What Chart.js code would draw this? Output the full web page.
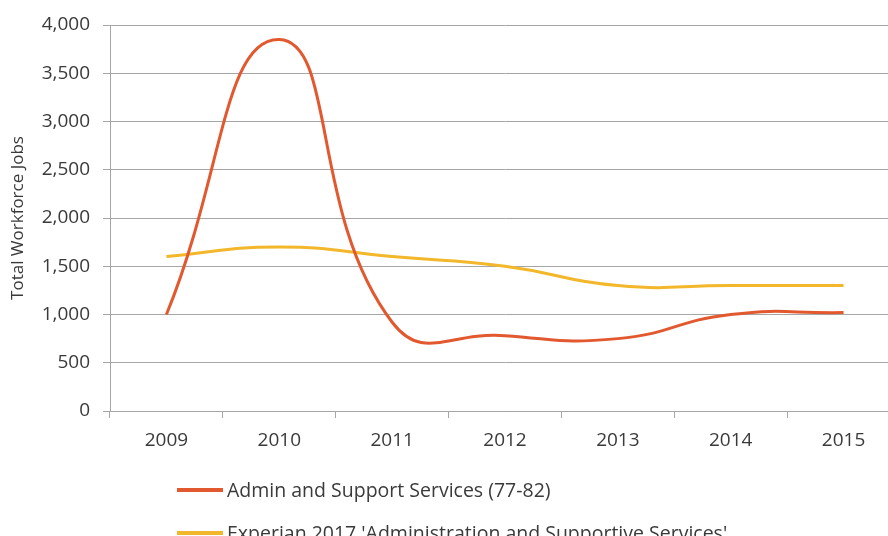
<!DOCTYPE html>
<html>
<head>
    <title>Total Workforce Jobs</title>
    <script src="https://cdn.jsdelivr.net/npm/chart.js"></script>
    <style>
        body {
            margin: 0;
            background-color: #ffffff;
            overflow: hidden;
            font-family: 'Open Sans', sans-serif;
        }

        .wrap {
            position: relative;
            width: 888px;
            height: 536px;
            overflow: hidden;
        }

        canvas {
            position: absolute;
            left: 0;
            top: 0;
        }

        .legend {
            position: absolute;
            left: 177px;
            top: 468px;
        }

        .legend-item {
            display: flex;
            align-items: center;
            height: 43px;
            font-size: 19.5px;
            color: #3a3a3a;
            white-space: nowrap;
        }

        .legend-line {
            width: 46px;
            height: 4px;
            margin-right: 4px;
        }
    </style>
</head>
<body>
    <div class="wrap">
        <canvas id="workforceChart" width="900" height="470"></canvas>
        <div class="legend" id="legend"></div>
    </div>

    <script>
        var years = ['2009', '2010', '2011', '2012', '2013', '2014', '2015'];
        var adminSupport = [1000, 3850, 920, 780, 750, 1000, 1020];
        var experian = [1600, 1700, 1600, 1500, 1300, 1300, 1300];

        var textColor = '#3a3a3a';
        var gridColor = '#a6a6a6';

        var workforceChart = new Chart(document.getElementById('workforceChart').getContext('2d'), {
            type: 'line',
            data: {
                labels: years,
                datasets: [{
                    label: 'Admin and Support Services (77-82)',
                    data: adminSupport,
                    borderColor: '#e2582f',
                    backgroundColor: '#e2582f',
                    borderWidth: 3,
                    pointRadius: 0,
                    tension: 0.5,
                    fill: false
                }, {
                    label: "Experian 2017 'Administration and Supportive Services'",
                    data: experian,
                    borderColor: '#f2b72a',
                    backgroundColor: '#f2b72a',
                    borderWidth: 3,
                    pointRadius: 0,
                    tension: 0.5,
                    fill: false
                }]
            },
            options: {
                responsive: false,
                animation: false,
                layout: {
                    padding: { top: 25, right: 0, bottom: 0, left: 0 }
                },
                plugins: {
                    legend: { display: false },
                    tooltip: { enabled: false }
                },
                scales: {
                    x: {
                        offset: true,
                        grid: {
                            offset: true,
                            drawOnChartArea: false,
                            drawTicks: true,
                            tickLength: 7,
                            color: gridColor
                        },
                        border: { color: gridColor },
                        ticks: {
                            color: textColor,
                            padding: 11,
                            font: { family: 'Open Sans', size: 19 },
                            maxRotation: 0
                        },
                        afterFit: function (scale) {
                            scale.height = 59;
                        }
                    },
                    y: {
                        min: 0,
                        max: 4000,
                        ticks: {
                            stepSize: 500,
                            color: textColor,
                            padding: 13,
                            font: { family: 'Open Sans', size: 19 },
                            callback: function (value) {
                                return value.toLocaleString('en-US');
                            }
                        },
                        grid: {
                            color: gridColor,
                            tickLength: 7
                        },
                        border: { color: gridColor },
                        title: {
                            display: true,
                            text: 'Total Workforce Jobs',
                            color: textColor,
                            font: { family: 'Open Sans', size: 17 },
                            padding: { top: 8, bottom: 0 }
                        },
                        afterFit: function (scale) {
                            scale.width = 110;
                        }
                    }
                }
            }
        });

        // legend stacked under the chart, built from the datasets
        var legend = document.getElementById('legend');
        workforceChart.data.datasets.forEach(function (ds) {
            var item = document.createElement('div');
            item.className = 'legend-item';
            var line = document.createElement('span');
            line.className = 'legend-line';
            line.style.backgroundColor = ds.borderColor;
            var text = document.createElement('span');
            text.textContent = ds.label;
            item.appendChild(line);
            item.appendChild(text);
            legend.appendChild(item);
        });
    </script>
</body>
</html>
